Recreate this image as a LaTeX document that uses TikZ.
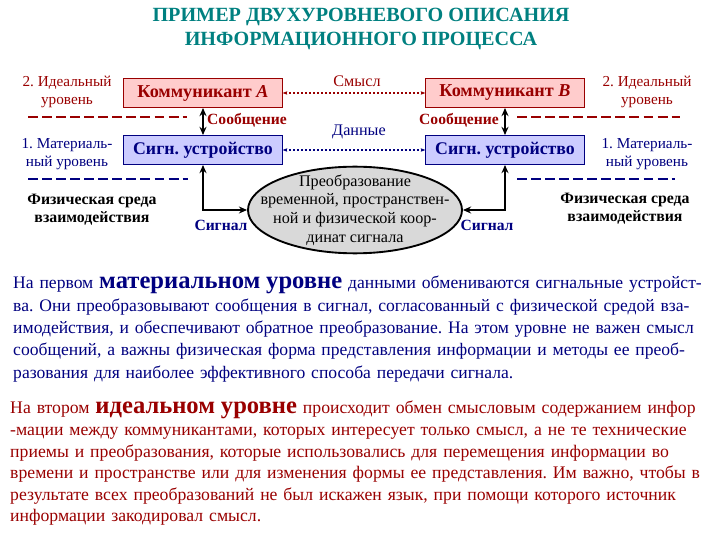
\documentclass[tikz,border=0pt]{standalone}
\usepackage{fontspec}
\setmainfont{Liberation Serif}
\usetikzlibrary{positioning,shapes.geometric,arrows.meta}
\frenchspacing

\definecolor{titleteal}{RGB}{0,128,128}
\definecolor{idealred}{RGB}{153,0,0}
\definecolor{matblue}{RGB}{0,0,128}
\definecolor{idealfill}{RGB}{255,204,204}
\definecolor{matfill}{RGB}{204,204,255}
\definecolor{convfill}{RGB}{217,217,217}

% one justified line of the body text
\newcommand\fullline[1]{\hbox to 21.06cm{#1}}
\newcommand\bigword[1]{{\fontsize{21}{19}\selectfont\bfseries #1}}

\begin{document}
\begin{tikzpicture}[
    x=0.03cm, y=-0.03cm,
    idealbox/.style={draw=idealred, fill=idealfill, line width=0.8pt, inner sep=0pt,
      minimum width=4.75cm, minimum height=0.87cm, text=idealred,
      font=\fontsize{15.5}{17}\selectfont\bfseries},
    matbox/.style={draw=matblue, fill=matfill, line width=0.8pt, inner sep=0pt,
      minimum width=4.75cm, minimum height=0.87cm, text=matblue,
      font=\fontsize{15.2}{17}\selectfont\bfseries},
    levellabel/.style={align=center, inner sep=0pt, font=\fontsize{13}{16}\selectfont},
    medium/.style={align=center, inner sep=0pt, font=\fontsize{13.5}{15.3}\selectfont\bfseries},
    flowlabel/.style={inner sep=0pt, font=\fontsize{13.3}{15}\selectfont\bfseries},
    linklabel/.style={inner sep=0pt, font=\fontsize{13.8}{15}\selectfont},
    dblarrow/.style={<->, line width=1.6pt},
    dotlink/.style={{Stealth[length=4pt]}-{Stealth[length=4pt]}, dotted, line width=1.4pt},
    separator/.style={dash pattern=on 8.5pt off 3.5pt},
    bodytext/.style={inner sep=0pt, anchor=base west},
    >={Stealth[length=7pt, width=6pt]}
]
\useasboundingbox (0,0) rectangle (720,540);

% Title
\node[align=center, inner sep=0pt, text=titleteal,
      font=\fontsize{17.2}{20.5}\selectfont\bfseries] (title) at (361,29)
  {ПРИМЕР ДВУХУРОВНЕВОГО ОПИСАНИЯ\\ИНФОРМАЦИОННОГО ПРОЦЕССА};

% Communicants (ideal level)
\node[idealbox] (commA) at (203,93) {Коммуникант \textit{А}};
\node[idealbox] (commB) at (505,93) {Коммуникант \textit{B}};

% Signal devices (material level)
\node[matbox] (devA) at (203,150) {Сигн. устройство};
\node[matbox] (devB) at (505,150) {Сигн. устройство};

% Message arrows
\draw[dblarrow] (commA) -- (devA);
\draw[dblarrow] (commB) -- (devB);
\node[flowlabel, text=idealred] (msgA) at (247,120) {Сообщение};
\node[flowlabel, text=idealred] (msgB) at (459,120) {Сообщение};

% Meaning and data links
\draw[dotlink, idealred] (commA) -- (commB);
\node[linklabel, text=idealred] (meaning) at (357,81) {Смысл};
\draw[dotlink, matblue] (devA) -- (devB);
\node[linklabel, text=matblue] (data) at (359,132) {Данные};

% Transformation of the signal
\node[ellipse, draw, fill=convfill, line width=1.6pt, inner sep=0pt,
      minimum width=6.42cm, minimum height=2.6cm] (conv) at (355,210) {};
\node[align=center, inner sep=0pt, font=\fontsize{13.8}{16}\selectfont] (convtext) at (conv)
  {Преобразование\\временной, пространствен-\\ной и физической коор-\\динат сигнала};

% Signal arrows
\draw[dblarrow] (devA.south) |- (conv.west);
\draw[dblarrow] (devB.south) |- (conv.east);
\node[flowlabel, text=matblue] (sigA) at (221,225) {Сигнал};
\node[flowlabel, text=matblue] (sigB) at (487,225) {Сигнал};

% Level labels, left
\node[levellabel, text=idealred] (idealL) at (67,92) {2. Идеальный\\уровень};
\draw[separator, idealred, line width=2pt] (28,117) -- (187,117);
\node[levellabel, text=matblue] (matL) at (67,154) {1. Материаль-\\ный уровень};
\draw[separator, matblue, line width=1pt] (28,179) -- (188,179);
\node[medium] (mediumL) at (92,210) {Физическая среда\\взаимодействия};

% Level labels, right
\node[levellabel, text=idealred] (idealR) at (647,92) {2. Идеальный\\уровень};
\draw[separator, idealred, line width=2pt] (517,117) -- (680,117);
\node[levellabel, text=matblue] (matR) at (647,154) {1. Материаль-\\ный уровень};
\draw[separator, matblue, line width=1pt] (517,179) -- (675,179);
\node[medium] (mediumR) at (625,209) {Физическая среда\\взаимодействия};

% Material level text
\node[bodytext, text=matblue, text width=21.06cm, font=\fontsize{15}{19}\selectfont] (matpar) at (13,289)
  {\fullline{На первом \bigword{материальном уровне} данными обмениваются сигнальные устройст-}
   \fullline{ва. Они преобразовывают сообщения в сигнал, согласованный с физической средой вза-}
   \fullline{имодействия, и обеспечивают обратное преобразование. На этом уровне не важен смысл}
   \fullline{сообщений, а важны физическая форма представления информации и методы ее преоб-}
   разования для наиболее эффективного способа передачи сигнала.};

% Ideal level text
\node[bodytext, text=idealred, text width=21.3cm, align=left, font=\fontsize{15.1}{18.4}\selectfont] (idealpar) at (10,414)
  {На втором \bigword{идеальном уровне} происходит обмен смысловым содержанием инфор\\
   -мации между коммуникантами, которых интересует только смысл, а не те технические\\
   приемы и преобразования, которые использовались для перемещения информации во\\
   времени и пространстве или для изменения формы ее представления. Им важно, чтобы в\\
   результате всех преобразований не был искажен язык, при помощи которого источник\\
   информации закодировал смысл.};

\end{tikzpicture}
\end{document}
